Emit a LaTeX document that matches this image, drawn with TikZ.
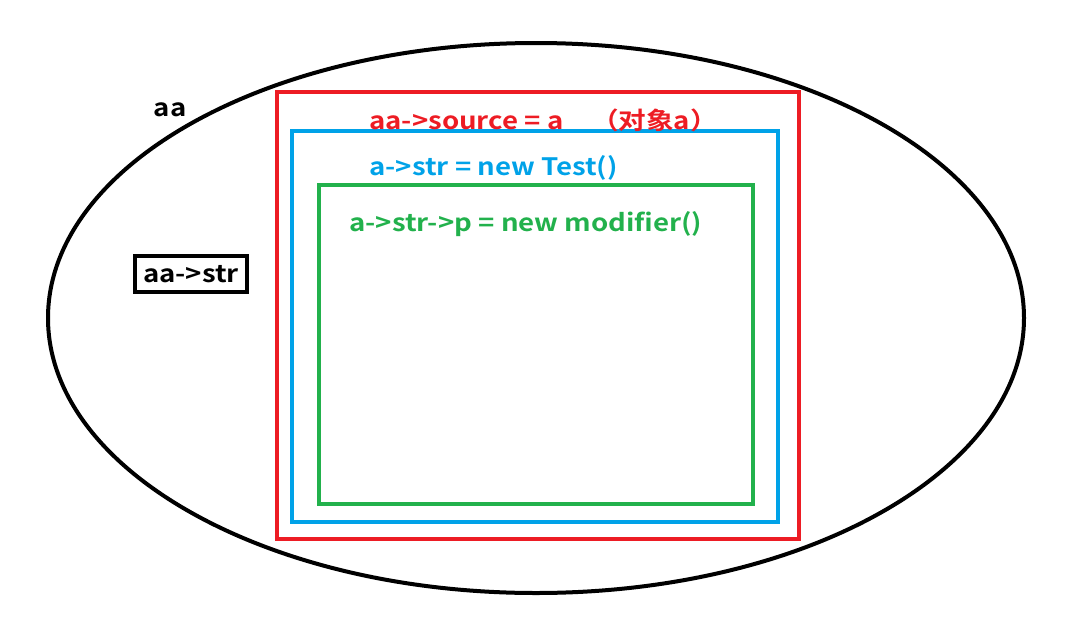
\documentclass[tikz,border=0pt]{standalone}
\usepackage{fontspec}
\setmainfont{Noto Sans CJK SC}[BoldFont={Noto Sans CJK SC Bold}]
\definecolor{myred}{RGB}{237,28,36}
\definecolor{myblue}{RGB}{0,162,232}
\definecolor{mygreen}{RGB}{34,177,76}
\begin{document}
\begin{tikzpicture}[x=1pt,y=-1pt,line width=4pt,
  lbl/.style={font=\bfseries\fontsize{24}{28}\selectfont,inner sep=0pt,xscale=1.15}]
\useasboundingbox (0,0) rectangle (1085,619);
\draw (536,318) ellipse [x radius=488, y radius=275];
\draw[myred] (277,92) rectangle (799,539);
\draw[myblue] (292,131) rectangle (778,522);
\draw[mygreen] (319,185) rectangle (753,504);
\node[lbl] (aa) at (170,110) {aa};
\node[draw,line width=3.5pt,minimum width=112pt,minimum height=36pt] (aastr) at (191,274) {};
\node[lbl] (aastrt) at (aastr) {aa->str};
\node[lbl,text=myred,anchor=west] (src) at (367,120) {aa->source = a\quad（对象a）};
\node[lbl,text=myblue,anchor=west] (str) at (367,168) {a->str = new Test()};
\node[lbl,text=mygreen,anchor=west] (p) at (347,224) {a->str->p = new modifier()};
\end{tikzpicture}
\end{document}
